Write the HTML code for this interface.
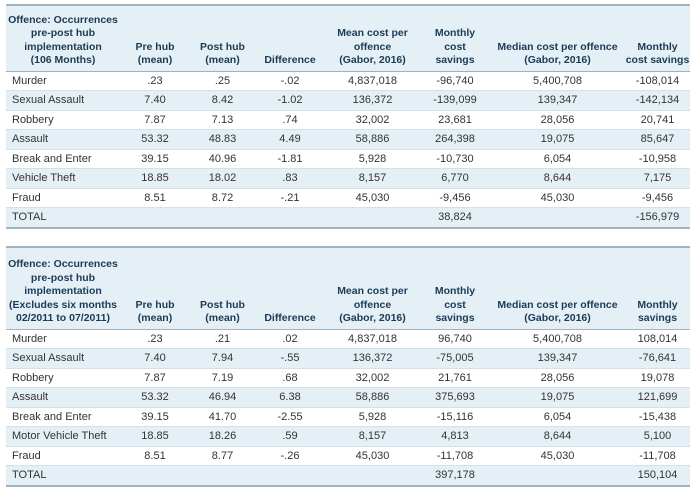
<!DOCTYPE html>
<html><head><meta charset="utf-8"><style>
body{margin:0;background:#fff;width:700px;height:490px;overflow:hidden;font-family:"Liberation Sans",sans-serif;}
table{position:absolute;left:6px;width:684px;border-collapse:collapse;table-layout:fixed;font-size:11px;color:#333;}
th{background:#e4f0f6;color:#1c3a55;font-weight:bold;font-size:10.5px;line-height:13.5px;vertical-align:bottom;text-align:center;padding:0 0 3px 0;border-bottom:1px solid #9fb3c2;white-space:nowrap;}
td{height:18.5px;padding:0;text-align:center;border-bottom:1px solid #d3e2ea;white-space:nowrap;}
td.l{text-align:left;padding-left:6px;}
tr.b td{background:#e4f0f6;}
tr.t td{background:#e4f0f6;border-bottom:2px solid #9fb3c2;}
.top{border-top:2px solid #9fb3c2;}
</style></head><body>
<table style="top:4px">
<colgroup><col style="width:114px"><col style="width:70px"><col style="width:65px"><col style="width:70px"><col style="width:95px"><col style="width:70px"><col style="width:135px"><col style="width:65px"></colgroup>
<tr class="top" style="height:66px"><th>Offence: Occurrences<br>pre-post hub<br>implementation<br>(106 Months)</th><th>Pre hub<br>(mean)</th><th>Post hub<br>(mean)</th><th>Difference</th><th>Mean cost per<br>offence<br>(Gabor, 2016)</th><th>Monthly<br>cost<br>savings</th><th>Median cost per offence<br>(Gabor, 2016)</th><th>Monthly<br>cost savings</th></tr>
<tr><td class="l">Murder</td><td>.23</td><td>.25</td><td>-.02</td><td>4,837,018</td><td>-96,740</td><td>5,400,708</td><td>-108,014</td></tr>
<tr class="b"><td class="l">Sexual Assault</td><td>7.40</td><td>8.42</td><td>-1.02</td><td>136,372</td><td>-139,099</td><td>139,347</td><td>-142,134</td></tr>
<tr><td class="l">Robbery</td><td>7.87</td><td>7.13</td><td>.74</td><td>32,002</td><td>23,681</td><td>28,056</td><td>20,741</td></tr>
<tr class="b"><td class="l">Assault</td><td>53.32</td><td>48.83</td><td>4.49</td><td>58,886</td><td>264,398</td><td>19,075</td><td>85,647</td></tr>
<tr><td class="l">Break and Enter</td><td>39.15</td><td>40.96</td><td>-1.81</td><td>5,928</td><td>-10,730</td><td>6,054</td><td>-10,958</td></tr>
<tr class="b"><td class="l">Vehicle Theft</td><td>18.85</td><td>18.02</td><td>.83</td><td>8,157</td><td>6,770</td><td>8,644</td><td>7,175</td></tr>
<tr><td class="l">Fraud</td><td>8.51</td><td>8.72</td><td>-.21</td><td>45,030</td><td>-9,456</td><td>45,030</td><td>-9,456</td></tr>
<tr class="t"><td class="l">TOTAL</td><td></td><td></td><td></td><td></td><td>38,824</td><td></td><td>-156,979</td></tr>
</table>
<table style="top:246px">
<colgroup><col style="width:114px"><col style="width:70px"><col style="width:65px"><col style="width:70px"><col style="width:95px"><col style="width:70px"><col style="width:135px"><col style="width:65px"></colgroup>
<tr class="top" style="height:82px"><th>Offence: Occurrences<br>pre-post hub<br>implementation<br>(Excludes six months<br>02/2011 to 07/2011)</th><th>Pre hub<br>(mean)</th><th>Post hub<br>(mean)</th><th>Difference</th><th>Mean cost per<br>offence<br>(Gabor, 2016)</th><th>Monthly<br>cost<br>savings</th><th>Median cost per offence<br>(Gabor, 2016)</th><th>Monthly<br>savings</th></tr>
<tr><td class="l">Murder</td><td>.23</td><td>.21</td><td>.02</td><td>4,837,018</td><td>96,740</td><td>5,400,708</td><td>108,014</td></tr>
<tr class="b"><td class="l">Sexual Assault</td><td>7.40</td><td>7.94</td><td>-.55</td><td>136,372</td><td>-75,005</td><td>139,347</td><td>-76,641</td></tr>
<tr><td class="l">Robbery</td><td>7.87</td><td>7.19</td><td>.68</td><td>32,002</td><td>21,761</td><td>28,056</td><td>19,078</td></tr>
<tr class="b"><td class="l">Assault</td><td>53.32</td><td>46.94</td><td>6.38</td><td>58,886</td><td>375,693</td><td>19,075</td><td>121,699</td></tr>
<tr><td class="l">Break and Enter</td><td>39.15</td><td>41.70</td><td>-2.55</td><td>5,928</td><td>-15,116</td><td>6,054</td><td>-15,438</td></tr>
<tr class="b"><td class="l">Motor Vehicle Theft</td><td>18.85</td><td>18.26</td><td>.59</td><td>8,157</td><td>4,813</td><td>8,644</td><td>5,100</td></tr>
<tr><td class="l">Fraud</td><td>8.51</td><td>8.77</td><td>-.26</td><td>45,030</td><td>-11,708</td><td>45,030</td><td>-11,708</td></tr>
<tr class="t"><td class="l">TOTAL</td><td></td><td></td><td></td><td></td><td>397,178</td><td></td><td>150,104</td></tr>
</table>
</body></html>
